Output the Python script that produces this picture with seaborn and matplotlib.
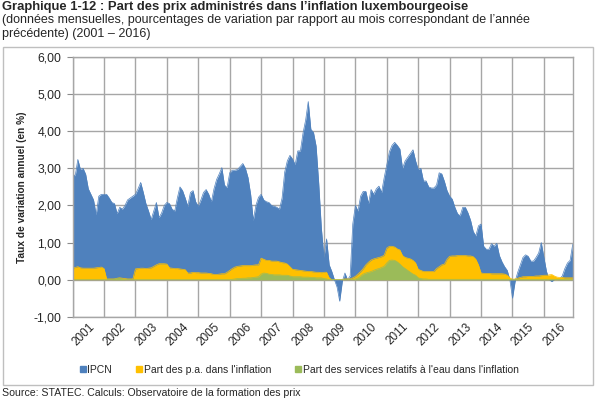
import numpy as np
import pandas as pd
import matplotlib
matplotlib.use("Agg")
import matplotlib.pyplot as plt
from matplotlib.lines import Line2D
from matplotlib.patches import Rectangle
import seaborn as sns

years = list(range(2001, 2017))

# IPCN, taux de variation annuel (%), valeurs mensuelles
ipcn = [
    2.85, 2.80, 3.24, 2.97, 3.00, 2.84, 2.45, 2.30, 2.15, 1.75, 2.25, 2.30,   # 2001
    2.30, 2.30, 2.20, 2.08, 2.05, 1.78, 1.95, 1.90, 2.00, 2.15, 2.20, 2.25,   # 2002
    2.30, 2.45, 2.62, 2.35, 2.05, 1.85, 1.62, 1.85, 2.08, 1.67, 1.80, 2.00,   # 2003
    2.08, 2.05, 1.90, 1.85, 2.20, 2.50, 2.40, 2.20, 1.98, 2.35, 2.40, 2.10,   # 2004
    1.98, 2.15, 2.35, 2.43, 2.30, 2.10, 2.45, 2.70, 2.85, 3.02, 2.55, 2.48,   # 2005
    2.88, 2.95, 2.95, 2.97, 3.05, 3.13, 3.00, 2.75, 2.30, 1.60, 2.00, 2.22,   # 2006
    2.30, 2.15, 2.10, 2.08, 2.00, 1.98, 1.95, 1.90, 2.20, 2.90, 3.20, 3.35,   # 2007
    3.25, 3.10, 3.47, 3.47, 3.95, 4.30, 4.80, 4.05, 3.97, 3.60, 2.60, 1.40,   # 2008
    0.60, 1.10, 0.40, 0.22, 0.00, -0.20, -0.58, -0.05, 0.18, 0.00, 0.10, 1.50,  # 2009
    2.00, 1.85, 2.25, 2.38, 2.38, 2.05, 2.43, 2.30, 2.45, 2.52, 2.35, 2.75,   # 2010
    3.10, 3.45, 3.62, 3.70, 3.62, 3.52, 3.00, 3.20, 3.30, 3.40, 3.50, 3.20,   # 2011
    2.97, 3.00, 2.66, 2.66, 2.50, 2.47, 2.47, 2.55, 2.88, 2.85, 2.65, 2.40,   # 2012
    2.25, 2.17, 1.95, 1.78, 1.72, 1.95, 1.95, 1.80, 1.60, 1.30, 1.18, 1.45,   # 2013
    1.50, 0.90, 0.82, 0.82, 0.97, 0.90, 0.98, 0.65, 0.48, 0.35, 0.25, 0.00,   # 2014
    -0.50, -0.05, 0.20, 0.40, 0.60, 0.67, 0.63, 0.50, 0.50, 0.60, 0.72, 1.00,  # 2015
    0.60, 0.22, 0.00, -0.05, 0.00, 0.00, 0.02, 0.10, 0.30, 0.45, 0.52, 0.95,  # 2016
]

# Part des prix administrés dans l'inflation
part_pa = [
    0.31, 0.33, 0.35, 0.32, 0.31, 0.31, 0.31, 0.31, 0.31, 0.32, 0.33, 0.34,
    0.30, 0.02, 0.02, 0.02, 0.02, 0.04, 0.05, 0.04, 0.03, 0.02, 0.02, 0.02,
    0.29, 0.30, 0.31, 0.31, 0.30, 0.31, 0.32, 0.36, 0.40, 0.43, 0.43, 0.43,
    0.42, 0.32, 0.31, 0.30, 0.30, 0.29, 0.28, 0.27, 0.18, 0.18, 0.20, 0.19,
    0.19, 0.18, 0.18, 0.18, 0.17, 0.16, 0.14, 0.14, 0.15, 0.16, 0.16, 0.20,
    0.25, 0.30, 0.34, 0.36, 0.37, 0.38, 0.38, 0.38, 0.38, 0.39, 0.40, 0.40,
    0.58, 0.55, 0.52, 0.52, 0.50, 0.50, 0.50, 0.48, 0.46, 0.45, 0.42, 0.35,
    0.28, 0.27, 0.26, 0.25, 0.24, 0.23, 0.22, 0.22, 0.21, 0.20, 0.20, 0.19,
    0.20, 0.20, 0.05, 0.00, 0.00, 0.00, 0.00, 0.01, 0.02, 0.02, 0.02, 0.05,
    0.09, 0.15, 0.22, 0.30, 0.40, 0.47, 0.53, 0.56, 0.58, 0.60, 0.62, 0.66,
    0.85, 0.90, 0.90, 0.88, 0.83, 0.80, 0.65, 0.60, 0.58, 0.56, 0.52, 0.45,
    0.28, 0.25, 0.22, 0.22, 0.22, 0.22, 0.22, 0.30, 0.35, 0.40, 0.42, 0.55,
    0.63, 0.64, 0.64, 0.65, 0.65, 0.65, 0.65, 0.64, 0.64, 0.62, 0.55, 0.40,
    0.18, 0.17, 0.17, 0.17, 0.16, 0.16, 0.16, 0.16, 0.16, 0.15, 0.12, 0.05,
    0.01, 0.02, 0.04, 0.06, 0.08, 0.08, 0.09, 0.09, 0.09, 0.10, 0.10, 0.11,
    0.12, 0.12, 0.13, 0.14, 0.10, 0.07, 0.06, 0.06, 0.05, 0.05, 0.05, 0.05,
]

# Part des services relatifs à l'eau dans l'inflation
part_eau = [
    0.00, 0.00, 0.00, 0.00, 0.00, 0.00, 0.00, 0.00, 0.00, 0.00, 0.00, 0.00,
    0.00, 0.00, 0.00, 0.00, 0.02, 0.03, 0.03, 0.02, 0.00, 0.00, 0.00, 0.00,
    0.00, 0.00, 0.00, 0.00, 0.00, 0.00, 0.00, 0.00, 0.00, 0.00, 0.00, 0.00,
    0.00, 0.00, 0.00, 0.00, 0.00, 0.00, 0.00, 0.00, 0.00, 0.00, 0.00, 0.00,
    0.00, 0.00, 0.00, 0.00, 0.00, 0.00, 0.00, 0.00, 0.00, 0.00, 0.00, 0.00,
    0.00, 0.01, 0.02, 0.03, 0.03, 0.04, 0.04, 0.05, 0.05, 0.06, 0.07, 0.08,
    0.15, 0.18, 0.17, 0.15, 0.14, 0.13, 0.13, 0.13, 0.12, 0.12, 0.12, 0.10,
    0.08, 0.08, 0.08, 0.08, 0.07, 0.07, 0.07, 0.06, 0.06, 0.05, 0.05, 0.05,
    0.03, 0.02, 0.00, 0.00, 0.00, 0.00, 0.00, 0.00, 0.00, 0.00, 0.00, 0.00,
    0.02, 0.05, 0.10, 0.15, 0.18, 0.20, 0.22, 0.25, 0.28, 0.30, 0.33, 0.36,
    0.45, 0.52, 0.53, 0.52, 0.48, 0.42, 0.35, 0.30, 0.25, 0.20, 0.15, 0.12,
    0.05, 0.03, 0.02, 0.02, 0.01, 0.01, 0.01, 0.01, 0.01, 0.01, 0.01, 0.01,
    0.01, 0.01, 0.01, 0.01, 0.01, 0.01, 0.01, 0.01, 0.01, 0.01, 0.01, 0.01,
    0.01, 0.01, 0.01, 0.01, 0.01, 0.01, 0.01, 0.01, 0.01, 0.01, 0.01, 0.01,
    0.01, 0.01, 0.01, 0.01, 0.01, 0.01, 0.01, 0.01, 0.01, 0.01, 0.01, 0.01,
    0.01, 0.01, 0.01, 0.01, 0.01, 0.01, 0.01, 0.01, 0.01, 0.01, 0.01, 0.01,
]

y_ticks = [-1, 0, 1, 2, 3, 4, 5, 6]
y_labels = ["-1,00", "0,00", "1,00", "2,00", "3,00", "4,00", "5,00", "6,00"]

series_names = ["IPCN", "Part des p.a. dans l'inflation",
                "Part des services relatifs à l'eau dans l'inflation"]
colors = ["#4F81BD", "#FFC000", "#9BBB59"]

df = pd.DataFrame({"mois": np.arange(len(ipcn)),
                   series_names[0]: ipcn,
                   series_names[1]: part_pa,
                   series_names[2]: part_eau})

sns.set_style("white")
plt.rcParams["font.family"] = ["Liberation Sans", "DejaVu Sans"]

fig = plt.figure(figsize=(6, 4), dpi=100)
ax = fig.add_axes([0.121, 0.208, 0.8335, 0.6495])

# aires superposées (non empilées), dans l'ordre du tableur
for name, col in zip(series_names, colors):
    ax.fill_between(df["mois"], 0, df[name], color=col, linewidth=0, zorder=2)
    sns.lineplot(data=df, x="mois", y=name, color=col, linewidth=0.5, ax=ax, zorder=2)

n = len(ipcn)
ax.set_xlim(0, n - 1)
ax.set_ylim(-1, 6)
ax.set_yticks(y_ticks)
ax.set_yticklabels(y_labels, fontsize=8.8)
ax.set_xticks(np.arange(0, n, 12))
ax.set_xticklabels([])
ax.set_xticks(np.arange(6, n, 12), minor=True)
ax.set_xticklabels([str(y) for y in years], minor=True, rotation=45,
                   ha="right", rotation_mode="anchor", fontsize=8.5)
ax.tick_params(axis="x", which="both", length=0, pad=3)
ax.tick_params(axis="y", length=4, width=0.8, color="#8C8C8C", direction="out",
               pad=4, left=True)
ax.grid(True, which="major", color="#A6A6A6", linewidth=1.0, zorder=0)
ax.set_axisbelow(True)
for s in ax.spines.values():
    s.set_color("#A6A6A6")
    s.set_linewidth(1.0)
ax.set_xlabel("")
ax.set_ylabel("Taux de variation annuel (en %)", fontsize=7.3, fontweight="bold",
              labelpad=5)

handles = [Line2D([], [], marker="s", linestyle="", markersize=4,
                  markerfacecolor=c, markeredgecolor=c) for c in colors]
fig.legend(handles, series_names, loc="center left", bbox_to_anchor=(0.115, 0.075),
           ncol=3, frameon=False, fontsize=7.5, handletextpad=0.05,
           columnspacing=2.2, handlelength=0.8)

# cadre du graphique
fig.patches.append(Rectangle((0.005, 0.0375), 0.983, 0.845, transform=fig.transFigure,
                             fill=False, edgecolor="#BFBFBF", linewidth=1.0))

fig.text(0.003, 0.982, "Graphique 1-12 : Part des prix administrés dans l’inflation luxembourgeoise",
         fontsize=9.4, fontweight="bold", va="center", ha="left")
fig.text(0.003, 0.949, "(données mensuelles, pourcentages de variation par rapport au mois "
         "correspondant de l’année", fontsize=9, va="center", ha="left")
fig.text(0.003, 0.916, "précédente) (2001 – 2016)", fontsize=9, va="center", ha="left")
fig.text(0.003, 0.018, "Source: STATEC. Calculs: Observatoire de la formation des prix",
         fontsize=7.6, va="center", ha="left")

fig.savefig("out.png", dpi=100)
